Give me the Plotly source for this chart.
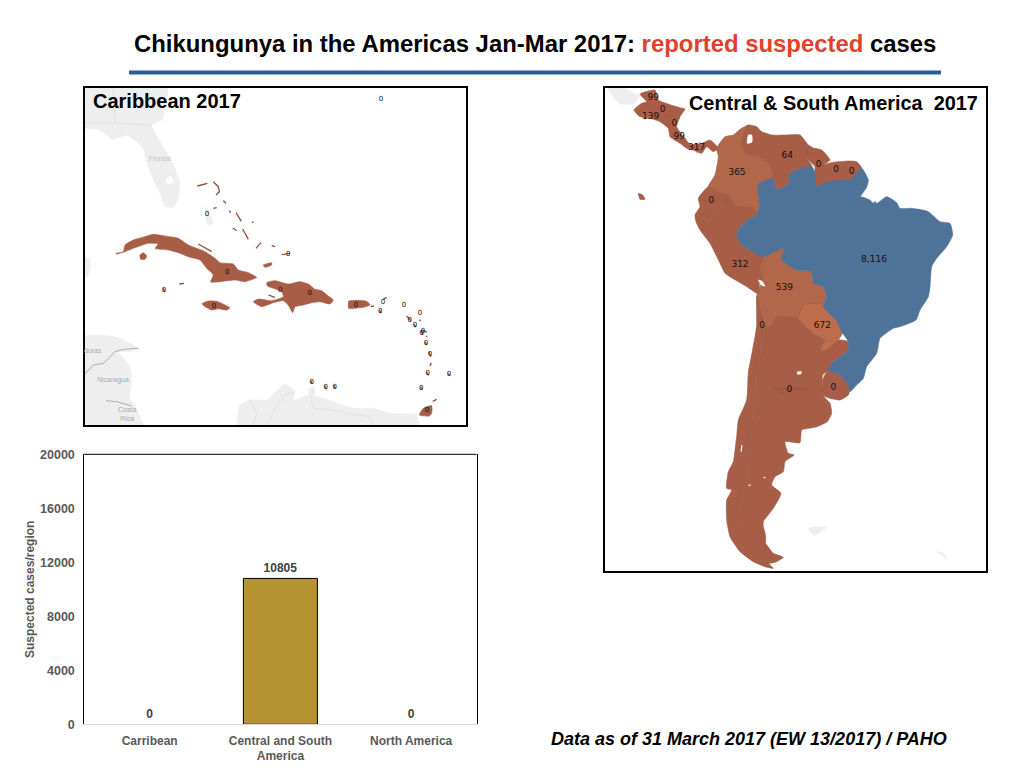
import plotly.graph_objects as go

# ---------- bar chart data ----------
regions = ["Carribean", "Central and South<br>America", "North America"]
region_cases = [0, 10805, 0]
y_ticks = [0, 4000, 8000, 12000, 16000, 20000]
y_tick_labels = ["0", "4000", "8000", "12000", "16000", "20000"]

# ---------- outlines (map units) ----------
florida = [(12,21),(262,21),(245,120),(215,135),(240,185),(268,230),(298,300),(295,355),(280,382),(255,378),(240,340),(225,310),(205,260),(190,210),(175,190),(140,165),(100,178),(60,150),(12,142)]
okeechobee = [(258,298),(272,290),(280,305),(265,312)]
andros = [(375,380),(388,395),(398,430),(385,438),(378,415)]
yucatan = [(12,530),(28,535),(32,560),(22,590),(12,590)]
central_am_gray = [(12,770),(100,770),(140,785),(175,805),(150,815),(115,815),(150,860),(155,900),(150,960),(165,975),(185,1025),(195,1038),(12,1038)]
south_am_gray = [(475,1038),(480,975),(510,960),(560,960),(615,912),(645,935),(640,960),(690,945),(760,965),(820,985),(880,985),(930,1000),(1010,1005),(1015,1038)]
curacao_gray = [(685,925),(700,920),(705,945),(690,945)]
gray_borders = [
    [(12,885),(40,855),(70,850),(105,815),(130,808),(175,805)],
    [(78,962),(110,965),(155,978)],
    [(12,130),(100,130),(215,135)],
    [(100,21),(105,130)],
    [(645,935),(615,945),(585,985),(560,1038)],
    [(510,960),(530,1000),(520,1038)],
    [(690,945),(700,985),(760,990),(800,1000),(870,1010),(880,1038)],
]
cuba = [(108,520),(130,515),(135,495),(160,480),(195,470),(220,463),(255,468),(295,475),(325,495),(350,505),(375,515),(405,535),(420,548),(460,552),(475,570),(505,578),(530,592),(495,605),(465,600),(420,605),(392,606),(400,585),(380,565),(360,540),(330,532),(300,520),(265,510),(225,505),(235,492),(205,490),(160,505),(135,515),(108,522)]
youth = [(180,525),(190,518),(200,528),(195,538),(182,538)]
jamaica = [(366,671),(385,663),(410,664),(435,675),(450,684),(440,690),(415,686),(395,690),(375,680)]
hispaniola = [(560,608),(585,602),(625,612),(660,605),(685,612),(705,628),(725,632),(745,648),(760,660),(750,672),(720,665),(695,668),(670,675),(645,680),(638,698),(625,675),(610,662),(580,668),(545,680),(520,665),(535,657),(575,662),(610,650),(605,635),(580,625),(562,618)]
haiti_border = [(625,612),(630,640),(622,660),(628,678)]
puerto_rico = [(806,664),(830,661),(860,664),(870,675),(850,682),(825,685),(806,685)]
trinidad = [(1018,1005),(1030,985),(1055,977),(1055,1000),(1048,1008)]
inagua = [(550,555),(575,548),(575,555),(555,562)]
small_islands = [
    [(352,318),(382,310)], [(400,305),(415,320),(418,335),(408,345)], [(430,362),(438,370)], [(468,398),(484,424)],
    [(488,447),(505,478)], [(528,505),(543,488)], [(458,444),(470,452)], [(516,428),(520,425)], [(448,392),(452,398)],
    [(400,385),(410,383)], [(575,497),(585,500)], [(605,524),(630,520)], [(298,612),(312,610)], [(565,645),(585,652)],
    [(1058,964),(1070,958)], [(1018,722),(1023,720)], [(1028,750),(1040,757)], [(1038,768),(1042,770)], [(1036,786),(1040,795)],
    [(1047,815),(1053,830)], [(1050,858),(1054,848)], [(1040,876),(1046,886)], [(1022,920),(1026,930)], [(1105,880),(1109,887)],
    [(980,708),(992,722)], [(1003,733),(1007,742)], [(1024,752),(1028,765)], [(899,690),(903,700)], [(872,680),(882,678)],
    [(910,658),(920,652)], [(250,625),(254,636)], [(734,917),(739,928)], [(762,916),(766,926)], [(693,902),(697,912)],
    [(355,492),(395,515)],
]
carib_lx = [903,381,625,442,252,601,689,402,828,909,901,972,1020,989,1005,1029,1025,1038,1050,1043,1107,1024,1041,695,737,764]
carib_ly = [58,403,523,577,630,630,641,678,675,666,695,676,699,720,737,755,760,789,823,880,883,925,992,907,922,921]
carib_lt = ["0"] * 26

mexico_gray = [(21,24),(75,24),(110,45),(120,42),(105,70),(60,72),(40,50)]
falkland = [(625,1345),(680,1340),(665,1355),(640,1365)]
south_georgia = [(1010,1415),(1030,1418),(1042,1438),(1025,1425)]
central_am = [(120,42),(165,30),(175,60),(240,83),(255,87),(240,110),(230,140),(255,175),(270,193),(305,190),(330,180),(355,205),(340,215),(320,200),(305,220),(280,210),(260,205),(240,190),(210,170),(205,145),(180,125),(150,115),(120,110),(102,90),(125,70),(140,65)]
central_borders = [[(140,65),(135,100)], [(170,72),(180,105),(190,130)], [(180,105),(240,115)], [(212,165),(225,150)], [(235,185),(250,175)], [(290,220),(300,185)]]
colombia = [(445,135),(430,160),(425,195),(435,220),(475,230),(510,255),(520,295),(475,313),(478,378),(470,405),(455,380),(410,380),(385,345),(350,335),(325,320),(345,285),(355,230),(350,205),(375,170),(400,165),(420,148)]
venezuela = [(445,135),(470,140),(485,155),(515,165),(560,165),(600,165),(625,195),(640,205),(622,235),(635,258),(590,270),(565,285),(570,305),(545,325),(525,325),(520,295),(510,255),(475,230),(435,220),(425,195),(430,160)]
maracaibo = [(445,165),(455,165),(456,186),(442,190)]
guyana = [(640,205),(665,210),(690,240),(672,255),(680,290),(685,305),(650,318),(642,290),(645,260),(622,235)]
suriname = [(672,255),(730,245),(738,270),(735,300),(685,305),(680,290)]
fr_guiana = [(730,245),(770,245),(785,265),(750,300),(735,300),(738,270)]
brazil = [(475,313),(520,295),(525,325),(545,325),(570,305),(565,285),(590,270),(635,258),(645,280),(650,318),(685,305),(735,300),(750,300),(785,265),(805,300),(800,322),(782,350),(815,350),(830,370),(860,350),(890,368),(900,385),(935,385),(985,395),(1020,425),(1050,430),(1058,465),(1040,500),(1010,535),(995,560),(990,620),(985,650),(960,690),(948,720),(900,740),(880,745),(840,775),(830,820),(800,860),(790,895),(770,915),(750,935),(745,915),(720,885),(685,870),(695,850),(745,810),(745,785),(725,755),(710,722),(670,680),(680,650),(670,620),(640,610),(635,575),(590,570),(545,540),(550,505),(490,530),(465,520),(420,490),(410,460),(440,420),(470,405),(478,378)]
amazon_mouth = [(785,348),(800,335),(830,345),(820,368),(812,360),(795,352)]
ecuador = [(325,320),(350,335),(385,345),(375,375),(340,395),(325,425),(305,410),(285,405),(300,380),(295,355)]
galapagos = [(115,340),(128,345),(135,358),(120,358)]
peru = [(285,405),(305,410),(325,425),(340,395),(375,375),(385,345),(410,380),(455,380),(470,405),(440,420),(410,460),(420,490),(465,520),(490,530),(480,565),(490,595),(478,612),(482,650),(470,640),(440,620),(375,580),(365,560),(330,490),(300,450),(288,425)]
bolivia = [(490,530),(550,505),(545,540),(590,570),(635,575),(640,610),(670,620),(680,650),(670,672),(610,675),(595,715),(530,712),(510,740),(490,735),(470,650),(482,615),(490,595),(480,565)]
titicaca = [(475,600),(485,603),(495,618),(485,616)]
paraguay = [(610,675),(670,672),(710,722),(735,755),(728,760),(715,780),(680,810),(660,810),(675,780),(640,760),(595,715)]
chile = [(470,650),(490,735),(490,760),(480,830),(470,890),(470,940),(457,1020),(450,1080),(445,1170),(435,1215),(425,1260),(415,1320),(435,1340),(495,1360),(495,1440),(505,1450),(520,1465),(495,1460),(460,1445),(420,1415),(390,1370),(380,1320),(380,1260),(395,1230),(380,1225),(385,1175),(400,1145),(405,1110),(410,1070),(415,1020),(440,960),(445,875),(450,850),(465,770),(470,735)]
argentina = [(490,735),(510,740),(530,712),(595,715),(640,760),(675,780),(660,810),(680,810),(715,780),(745,785),(745,810),(695,850),(685,870),(668,885),(668,945),(690,970),(695,1000),(682,1025),(645,1042),(605,1050),(600,1088),(555,1085),(565,1120),(582,1125),(555,1145),(550,1175),(525,1190),(515,1215),(543,1240),(520,1285),(490,1325),(490,1340),(495,1360),(435,1340),(415,1320),(425,1260),(435,1215),(445,1170),(450,1080),(457,1020),(470,940),(470,890),(480,830),(490,760)]
tierra = [(495,1390),(520,1420),(550,1432),(530,1445),(505,1450),(495,1440)]
uruguay = [(685,870),(720,885),(750,920),(745,945),(720,960),(690,955),(668,945),(668,900)]
cordoba_lake = [(592,876),(604,875),(602,882),(592,882)]
white_gaps = [[(426,1095),(423,1115)], [(491,1192),(496,1193)], [(445,1215),(452,1216)]]

csa_lx = [160,188,152,223,238,290,562,656,708,755,411,334,420,822,553,486,667,568,700]
csa_ly = [52,90,110,130,170,203,226,255,270,275,277,361,553,538,624,737,738,928,922]
csa_lt = ["99","0","139","0","99","317","64","0","0","0","365","0","312","8,116","539","0","672","0","0"]

# ---------- styles ----------
BROWN = "#a85d46"; ORANGE = "#b3674a"; BRIGHT = "#bd6d4b"; BLUE = "#4f7299"
GRAY = "#eeeeee"; WHITE = "#ffffff"; BORDER = "#96604c"
W, H = 1024, 768
def px_x(v): return v / W
def px_y(v): return 1 - v / H

fig = go.Figure()

def poly(shape, color, ax, name, line=None):
    fig.add_trace(go.Scatter(
        x=[p[0] for p in shape] + [shape[0][0]], y=[p[1] for p in shape] + [shape[0][1]],
        mode="lines", fill="toself", fillcolor=color,
        line=dict(color=line or color, width=0.6, shape="spline", smoothing=0.5, simplify=False),
        xaxis="x" + ax, yaxis="y" + ax, name=name, showlegend=False, hoverinfo="name"))

def lines(segments, color, width, ax, name):
    xs, ys = [], []
    for seg in segments:
        xs += [p[0] for p in seg] + [None]
        ys += [p[1] for p in seg] + [None]
    fig.add_trace(go.Scatter(x=xs, y=ys, mode="lines", line=dict(color=color, width=width),
                             xaxis="x" + ax, yaxis="y" + ax, name=name, showlegend=False, hoverinfo="skip"))

# Caribbean map
for nm, s in [("Florida", florida), ("Andros", andros), ("Yucatan", yucatan), ("Honduras", central_am_gray),
              ("South America", south_am_gray), ("Curacao", curacao_gray)]:
    poly(s, GRAY, "2", nm)
poly(okeechobee, WHITE, "2", "Okeechobee")
lines(gray_borders[:2], "#9a9a9a", 0.8, "2", "borders")
lines(gray_borders[2:], "#dcdcdc", 0.7, "2", "borders")
for nm, s in [("Cuba", cuba), ("Isla de la Juventud", youth), ("Jamaica", jamaica), ("Hispaniola", hispaniola),
              ("Puerto Rico", puerto_rico), ("Trinidad", trinidad), ("Great Inagua", inagua)]:
    poly(s, BROWN, "2", nm)
lines([haiti_border], BORDER, 0.7, "2", "Haiti border")
lines(small_islands, "#8f4f3c", 1.3, "2", "small islands")
fig.add_trace(go.Scatter(x=carib_lx, y=carib_ly, text=carib_lt, mode="text", xaxis="x2", yaxis="y2",
                         textfont=dict(family="DejaVu Sans", size=7, color="#111111"), showlegend=False, hoverinfo="skip"))

# Central & South America map
for nm, s in [("Mexico", mexico_gray), ("Falkland", falkland), ("South Georgia", south_georgia)]:
    poly(s, GRAY, "3", nm)
poly(central_am, BROWN, "3", "Central America")
lines(central_borders, BORDER, 0.6, "3", "Central borders")
for nm, s, c in [("Colombia", colombia, ORANGE), ("Venezuela", venezuela, BROWN), ("Guyana", guyana, BROWN),
                 ("Suriname", suriname, BROWN), ("French Guiana", fr_guiana, BROWN),
                 ("Ecuador", ecuador, BROWN), ("Galapagos", galapagos, BROWN), ("Peru", peru, BROWN),
                 ("Bolivia", bolivia, ORANGE), ("Chile", chile, BROWN), ("Argentina", argentina, BROWN),
                 ("Tierra del Fuego", tierra, BROWN), ("Uruguay", uruguay, BROWN), ("Paraguay", paraguay, BRIGHT)]:
    poly(s, c, "3", nm, line=BORDER)
poly(brazil, BLUE, "3", "Brazil")
for nm, s in [("Maracaibo", maracaibo), ("Amazon mouth", amazon_mouth), ("Titicaca", titicaca), ("Mar Chiquita", cordoba_lake)]:
    poly(s, WHITE, "3", nm)
lines(white_gaps, WHITE, 1.2, "3", "gaps")
fig.add_trace(go.Scatter(x=[568], y=[927], text=["Argentina"], mode="text", xaxis="x3", yaxis="y3",
                         textfont=dict(family="Liberation Sans", size=8, color="#8e5a49"), showlegend=False, hoverinfo="skip"))
fig.add_trace(go.Scatter(x=csa_lx, y=csa_ly, text=csa_lt, mode="text", xaxis="x3", yaxis="y3",
                         textfont=dict(family="DejaVu Sans", size=9, color="#111111"), showlegend=False, hoverinfo="skip"))

# Bar chart
fig.add_trace(go.Bar(x=regions, y=region_cases, text=[str(v) for v in region_cases], textposition="outside",
                     cliponaxis=False, marker=dict(color="#b59330", line=dict(color="#000000", width=[0, 1, 0])),
                     width=0.566, textfont=dict(family="Liberation Sans", size=12, color="#404040"),
                     texttemplate="<b>%{text}</b>", showlegend=False))

hidden = dict(showgrid=False, zeroline=False, showticklabels=False, ticks="", showline=True, mirror=True,
              linecolor="#000000", linewidth=2, fixedrange=True, automargin=False)
fig.update_layout(
    width=W, height=H, margin=dict(l=0, r=0, t=0, b=0, autoexpand=False), paper_bgcolor="white", plot_bgcolor="white",
    showlegend=False, bargap=0.434, font=dict(family="Liberation Sans"),
    xaxis=dict(domain=[px_x(84.3), px_x(476.5)], showgrid=False, zeroline=False, showline=True, linecolor="#d9d9d9",
               linewidth=1, ticks="", tickfont=dict(family="Liberation Sans", size=12, color="#595959"),
               tickprefix="<b>", ticksuffix="</b>", anchor="y", fixedrange=True, automargin=False, ticklabelstandoff=5),
    yaxis=dict(domain=[px_y(724.3), px_y(454.3)], range=[0, 20000], tickvals=y_ticks,
               ticktext=["<b>%s</b>" % t for t in y_tick_labels], showgrid=False, zeroline=False,
               showline=True, mirror=True, linecolor="#000000", linewidth=1, ticks="", ticklabelstandoff=6,
               tickfont=dict(family="Liberation Sans", size=12.5, color="#595959"),
               title=dict(text="<b>Suspected cases/region</b>", font=dict(family="Liberation Sans", size=12, color="#595959"), standoff=2),
               anchor="x", fixedrange=True, automargin=False),
    xaxis2=dict(domain=[px_x(85), px_x(466)], range=[15, 1158], anchor="y2", **hidden),
    yaxis2=dict(domain=[px_y(425), px_y(88)], range=[1035, 24], anchor="x2", **hidden),
    xaxis3=dict(domain=[px_x(605), px_x(986)], range=[15, 1158], anchor="y3", **hidden),
    yaxis3=dict(domain=[px_y(571), px_y(88)], range=[1473, 24], anchor="x3", **hidden),
    shapes=[
        dict(type="line", xref="paper", yref="paper", x0=px_x(129), x1=px_x(941), y0=px_y(72.5), y1=px_y(72.5),
             line=dict(color="#2a5b9c", width=4)),
        dict(type="line", xref="paper", yref="paper", x0=px_x(84.3), x1=px_x(476.5), y0=px_y(454.3), y1=px_y(454.3),
             line=dict(color="#000000", width=1)),
    ],
    annotations=[
        dict(xref="paper", yref="paper", x=px_x(535), y=px_y(44), showarrow=False, xanchor="center", yanchor="middle",
             text='<b>Chikungunya in the Americas Jan-Mar 2017: <span style="color:#e2402a">reported suspected</span> cases</b>',
             font=dict(family="Liberation Sans", size=23.9, color="#000000")),
        dict(xref="paper", yref="paper", x=px_x(91), y=px_y(101), showarrow=False, xanchor="left", yanchor="middle",
             text="<b>Caribbean 2017</b>", font=dict(family="Liberation Sans", size=20, color="#000000")),
        dict(xref="paper", yref="paper", x=px_x(980), y=px_y(103), showarrow=False, xanchor="right", yanchor="middle",
             text="<b>Central &amp; South America  2017</b>", font=dict(family="Liberation Sans", size=19.9, color="#000000")),
        dict(xref="paper", yref="paper", x=px_x(549), y=px_y(739), showarrow=False, xanchor="left", yanchor="middle",
             text="<b><i>Data as of 31 March 2017 (EW 13/2017) / PAHO</i></b>", font=dict(family="Liberation Sans", size=18, color="#000000")),
        dict(xref="x2", yref="y2", x=240, y=234, showarrow=False, text="Florida", font=dict(size=7, color="#c4c4c4")),
        dict(xref="x2", yref="y2", x=38, y=812, showarrow=False, text="duras", font=dict(size=7, color="#aaaaaa")),
        dict(xref="x2", yref="y2", x=100, y=901, showarrow=False, text="Nicaragua", font=dict(size=7, color="#aaaaaa")),
        dict(xref="x2", yref="y2", x=140, y=1003, showarrow=False, text="Costa<br>Rica", font=dict(size=7, color="#aaaaaa")),
    ],
)
fig.write_html("out.html", config={"displayModeBar": False},
               post_script="document.body.style.margin='0';document.body.style.overflow='hidden';")
